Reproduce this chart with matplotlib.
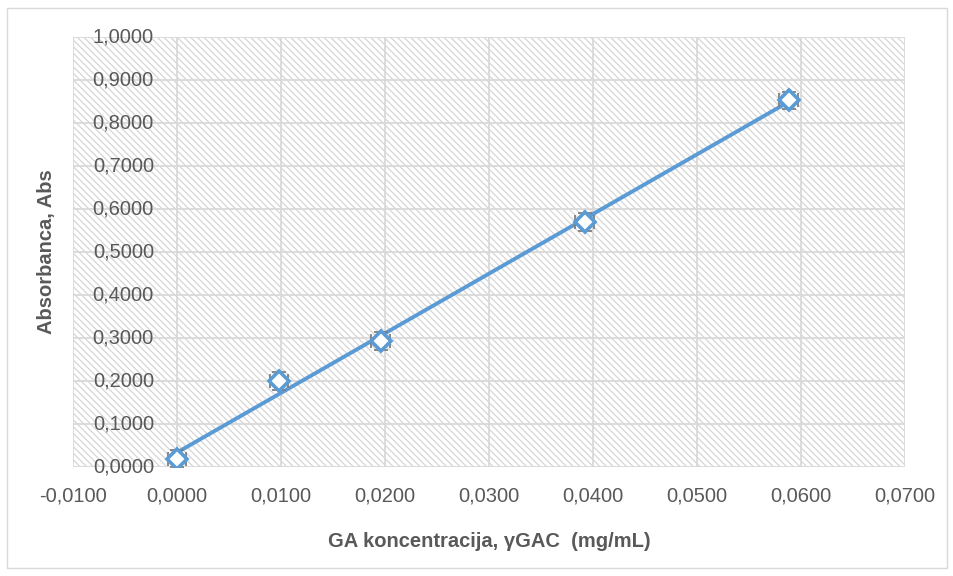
import numpy as np
import matplotlib.pyplot as plt
from matplotlib.patches import Rectangle
from matplotlib.transforms import offset_copy

# data
conc = [0.0, 0.0098, 0.0196, 0.0392, 0.0588]
absb = [0.019, 0.200, 0.293, 0.570, 0.853]
xerr = [0.0009] * 5
yerr = [0.02] * 5

xticks = np.arange(-0.01, 0.0701, 0.01)
yticks = np.arange(0.0, 1.0001, 0.1)

blue = '#5b9bd5'
grey = '#595959'

plt.rcParams['font.family'] = ['Liberation Sans', 'DejaVu Sans']
plt.rcParams['hatch.linewidth'] = 0.9

fig = plt.figure(figsize=(9.54, 5.76), dpi=100)
ax = fig.add_axes([73/954, 1-467/576, (905-73)/954, (467-37)/576])

# hatched plot background
ax.add_patch(Rectangle((0, 0), 1, 1, transform=ax.transAxes, facecolor='white',
                       edgecolor='#d6d6d6', linewidth=0, hatch='\\' * 5, zorder=0))

ax.set_xlim(-0.01, 0.07)
ax.set_ylim(0, 1.0)
ax.set_xticks(xticks)
ax.set_yticks(yticks)
ax.set_xticklabels([('%.4f' % v).replace('.', ',') for v in xticks])
ax.set_yticklabels([])
ax.tick_params(length=0, labelsize=14.5, colors=grey, pad=14)
ax.grid(True, color='#d9d9d9', linewidth=1.3, zorder=1)
ax.set_axisbelow(True)
for s in ax.spines.values():
    s.set_visible(False)

# y labels sit next to the vertical axis at x = 0
tr = offset_copy(ax.transData, fig=fig, x=-23, y=0, units='dots')
for v in yticks:
    ax.text(0, v, ('%.4f' % v).replace('.', ','), transform=tr, ha='right', va='center',
            fontsize=14.5, color=grey, zorder=2)

# linear trendline
k, b = np.polyfit(conc, absb, 1)
xs = np.array([conc[0], conc[-1]])
ax.plot(xs, k*xs + b, color=blue, linewidth=2.8, zorder=3)

ax.errorbar(conc, absb, xerr=xerr, yerr=yerr, fmt='none', ecolor='#7f7f7f',
            elinewidth=1.3, capsize=5, capthick=1.3, zorder=4)
ax.plot(conc, absb, linestyle='none', marker='D', markersize=10.5,
        markerfacecolor='white', markeredgecolor=blue, markeredgewidth=2.6, zorder=5)

ax.set_xlabel('GA koncentracija, γGAC  (mg/mL)', fontsize=14.5, fontweight='bold',
              color=grey, labelpad=12)
ax.set_ylabel('Absorbanca, Abs', fontsize=14.5, fontweight='bold', color=grey, labelpad=8)
ax.xaxis.set_label_coords(0.5, -(532-467)/430, transform=ax.transAxes)
ax.yaxis.set_label_coords(-(73-56)/832, 0.5, transform=ax.transAxes)

fig.patches.append(Rectangle((7/954, 1-568/576), 940/954, 560/576, transform=fig.transFigure,
                             fill=False, edgecolor='#d9d9d9', linewidth=1))

fig.savefig('out.png', dpi=100)
